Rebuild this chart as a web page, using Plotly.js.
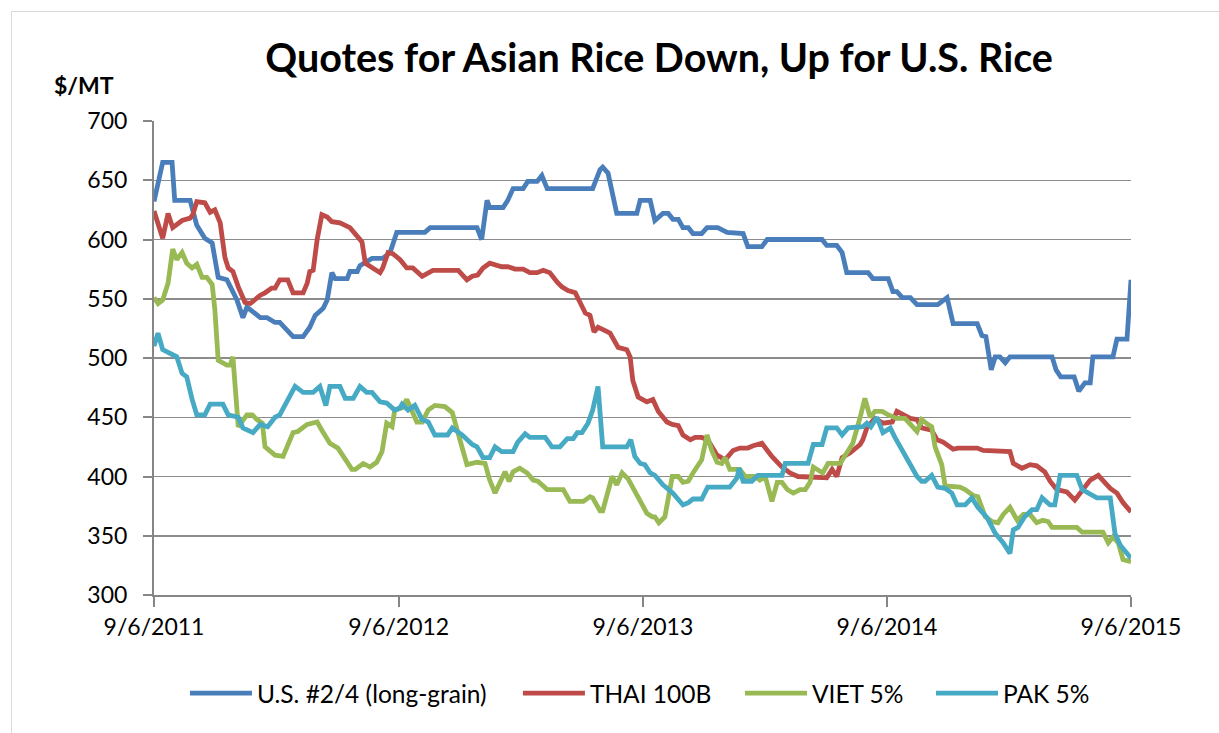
<!DOCTYPE html>
<html>
<head>
<meta charset="utf-8">
<script src="https://cdn.plot.ly/plotly-3.0.1.min.js"></script>
<style>
  html, body { margin: 0; padding: 0; background: #fff; }
  #wrap { position: relative; width: 1219px; height: 733px; overflow: hidden; }
  #chart { position: absolute; left: 0; top: 0; width: 1219px; height: 733px; }
  #frame { position: absolute; left: 11px; top: 11px; width: 1230px; height: 740px; border: 1px solid #d9d9d9; box-sizing: border-box; pointer-events: none; }
</style>
</head>
<body>
<div id="wrap"><div id="chart"></div><div id="frame"></div></div>
<script>
// ---- Data ----
const seriesNames = ["U.S. #2/4 (long-grain)", "THAI 100B", "VIET 5%", "PAK 5%"];
const seriesColors = ["#4A7EBB", "#BE4B48", "#98B954", "#46AAC5"];
const xTickVals = ["2011-09-06", "2012-09-06", "2013-09-06", "2014-09-06", "2015-09-06"];
const xTickText = ["9/6/2011", "9/6/2012", "9/6/2013", "9/6/2014", "9/6/2015"];

const usDates = ["2011-09-06","2011-09-19","2011-10-03","2011-10-07","2011-10-30","2011-11-09","2011-11-21","2011-12-02","2011-12-11","2011-12-24","2012-01-08","2012-01-17","2012-01-23","2012-02-12","2012-02-22","2012-03-05","2012-03-12","2012-03-23","2012-04-01","2012-04-16","2012-04-26","2012-05-04","2012-05-16","2012-05-22","2012-05-29","2012-06-03","2012-06-21","2012-06-25","2012-07-06","2012-07-10","2012-07-28","2012-08-13","2012-08-24","2012-09-03","2012-10-15","2012-10-23","2013-01-01","2013-01-08","2013-01-16","2013-01-20","2013-02-09","2013-02-16","2013-02-24","2013-03-11","2013-03-18","2013-04-01","2013-04-08","2013-04-16","2013-06-23","2013-07-04","2013-07-08","2013-07-16","2013-07-29","2013-08-28","2013-09-02","2013-09-17","2013-09-24","2013-10-06","2013-10-14","2013-10-21","2013-10-29","2013-11-05","2013-11-13","2013-11-20","2013-12-03","2013-12-11","2013-12-27","2014-01-10","2014-02-03","2014-02-10","2014-03-03","2014-03-11","2014-06-01","2014-06-08","2014-06-23","2014-07-01","2014-07-08","2014-08-09","2014-08-16","2014-09-08","2014-09-15","2014-09-21","2014-09-29","2014-10-11","2014-10-21","2014-11-21","2014-12-05","2014-12-14","2015-01-19","2015-01-26","2015-02-01","2015-02-09","2015-02-15","2015-02-22","2015-03-02","2015-03-09","2015-05-11","2015-05-17","2015-05-24","2015-06-13","2015-06-20","2015-06-29","2015-07-07","2015-07-11","2015-08-10","2015-08-16","2015-08-31","2015-09-06"];
const usValues = [632,665,665,633,633,612,601,597,568,566,549,534,543,534,534,530,530,523,518,518,526,536,542,549,572,567,567,573,573,578,584,584,589,606,606,610,610,600,633,627,627,633,643,643,649,649,654,643,643,659,661,656,622,622,633,633,616,622,622,617,617,610,610,605,605,610,610,606,605,594,594,600,600,595,595,589,572,572,567,567,556,556,551,551,545,545,551,529,529,519,518,490,501,501,496,501,501,490,484,484,472,479,479,501,501,516,516,566];

const thaiDates = ["2011-09-06","2011-09-19","2011-09-27","2011-10-04","2011-10-18","2011-10-30","2011-11-03","2011-11-09","2011-11-21","2011-11-29","2011-12-06","2011-12-14","2011-12-21","2011-12-26","2012-01-02","2012-01-10","2012-01-20","2012-01-28","2012-02-12","2012-02-19","2012-02-29","2012-03-05","2012-03-12","2012-03-24","2012-04-01","2012-04-16","2012-04-22","2012-04-26","2012-05-01","2012-05-07","2012-05-14","2012-05-22","2012-05-29","2012-06-10","2012-06-25","2012-07-07","2012-07-13","2012-07-18","2012-07-28","2012-08-09","2012-08-13","2012-08-21","2012-08-28","2012-09-08","2012-09-18","2012-09-27","2012-10-11","2012-10-27","2012-12-04","2012-12-17","2012-12-25","2013-01-02","2013-01-10","2013-01-20","2013-02-07","2013-02-16","2013-02-27","2013-03-11","2013-03-21","2013-04-01","2013-04-10","2013-04-20","2013-05-01","2013-05-08","2013-05-17","2013-05-28","2013-06-04","2013-06-12","2013-06-19","2013-06-25","2013-07-01","2013-07-19","2013-07-31","2013-08-13","2013-08-18","2013-08-22","2013-08-30","2013-09-12","2013-09-21","2013-09-29","2013-10-12","2013-10-20","2013-10-29","2013-11-05","2013-11-16","2013-11-23","2013-12-03","2013-12-12","2013-12-26","2014-01-07","2014-01-19","2014-01-29","2014-02-10","2014-02-18","2014-03-03","2014-03-18","2014-04-02","2014-04-14","2014-04-26","2014-05-21","2014-06-08","2014-06-16","2014-06-23","2014-07-01","2014-07-13","2014-07-28","2014-08-01","2014-08-07","2014-08-19","2014-08-31","2014-09-14","2014-09-21","2014-09-30","2014-10-11","2014-10-21","2014-10-28","2014-11-12","2014-11-20","2014-11-29","2014-12-05","2014-12-14","2014-12-21","2015-01-19","2015-01-28","2015-02-18","2015-03-09","2015-03-14","2015-03-27","2015-04-08","2015-04-18","2015-04-30","2015-05-08","2015-05-18","2015-06-02","2015-06-14","2015-06-22","2015-07-07","2015-07-19","2015-07-26","2015-08-06","2015-08-16","2015-08-25","2015-09-06"];
const thaiValues = [624,601,622,610,616,618,621,632,631,623,625,614,585,576,573,560,547,546,553,555,559,559,566,566,555,555,563,573,574,600,621,619,615,614,610,602,598,580,576,572,576,589,588,583,576,576,569,574,574,566,569,570,576,580,577,577,575,575,572,572,574,572,564,560,557,555,547,538,536,522,526,521,509,507,501,481,467,463,465,455,446,444,443,435,431,433,433,431,418,414,422,424,424,426,428,417,408,403,400,400,399,406,400,416,420,427,431,441,449,445,446,455,452,449,448,441,439,431,429,427,423,424,424,422,421,421,411,407,410,409,404,396,389,387,380,386,397,401,397,390,386,378,370];

const vietDates = ["2011-09-06","2011-09-12","2011-09-19","2011-09-27","2011-10-04","2011-10-10","2011-10-18","2011-10-25","2011-11-02","2011-11-09","2011-11-17","2011-11-24","2011-12-02","2011-12-06","2011-12-11","2011-12-24","2011-12-29","2012-01-02","2012-01-10","2012-01-23","2012-01-31","2012-02-07","2012-02-15","2012-02-19","2012-03-05","2012-03-17","2012-04-01","2012-04-08","2012-04-22","2012-05-07","2012-05-14","2012-05-26","2012-06-07","2012-06-21","2012-06-28","2012-07-03","2012-07-15","2012-07-25","2012-08-04","2012-08-12","2012-08-19","2012-08-27","2012-08-31","2012-09-11","2012-09-18","2012-09-26","2012-10-03","2012-10-11","2012-10-20","2012-10-30","2012-11-14","2012-11-25","2012-12-07","2012-12-17","2013-01-01","2013-01-13","2013-01-20","2013-01-28","2013-02-12","2013-02-18","2013-02-24","2013-03-06","2013-03-17","2013-03-26","2013-04-02","2013-04-16","2013-05-10","2013-05-20","2013-06-09","2013-06-19","2013-06-23","2013-07-04","2013-07-08","2013-07-22","2013-07-29","2013-08-06","2013-08-15","2013-08-25","2013-09-02","2013-09-12","2013-09-20","2013-09-24","2013-09-30","2013-10-09","2013-10-20","2013-10-29","2013-11-05","2013-11-13","2013-11-20","2013-11-28","2013-12-03","2013-12-11","2013-12-18","2013-12-26","2014-01-02","2014-01-07","2014-01-14","2014-01-29","2014-02-06","2014-02-21","2014-02-28","2014-03-08","2014-03-18","2014-03-26","2014-04-02","2014-04-10","2014-04-19","2014-04-29","2014-05-07","2014-05-14","2014-05-19","2014-06-02","2014-06-10","2014-06-28","2014-07-08","2014-07-17","2014-07-28","2014-08-04","2014-08-12","2014-08-19","2014-08-30","2014-09-08","2014-09-21","2014-10-03","2014-10-21","2014-10-28","2014-11-06","2014-11-12","2014-11-17","2014-11-27","2014-12-02","2014-12-24","2015-01-01","2015-01-13","2015-01-20","2015-01-31","2015-02-10","2015-02-19","2015-02-27","2015-03-09","2015-03-20","2015-03-29","2015-04-08","2015-04-18","2015-04-27","2015-05-05","2015-05-11","2015-06-17","2015-06-25","2015-07-26","2015-08-03","2015-08-10","2015-08-18","2015-08-25","2015-09-06"];
const vietValues = [551,546,549,563,592,583,589,580,576,579,568,568,562,541,498,494,494,501,442,452,452,448,445,425,418,417,437,438,444,446,439,428,424,412,406,406,411,408,412,421,445,442,456,458,465,455,446,446,456,460,459,454,431,410,412,411,397,386,404,396,404,407,403,397,396,389,389,379,379,383,382,371,371,400,393,403,398,387,379,369,366,366,361,366,400,400,395,396,403,411,414,435,422,412,411,416,406,406,400,400,397,400,379,395,395,389,386,389,389,395,408,403,411,411,420,428,450,466,450,455,455,452,449,449,438,448,444,442,425,410,392,391,389,384,383,366,362,361,368,374,363,368,368,361,363,362,357,357,353,353,344,349,344,330,328];

const pakDates = ["2011-09-06","2011-09-12","2011-09-19","2011-09-27","2011-10-10","2011-10-18","2011-10-25","2011-11-02","2011-11-09","2011-11-21","2011-11-29","2011-12-18","2011-12-26","2012-01-10","2012-01-17","2012-02-01","2012-02-12","2012-02-23","2012-03-05","2012-03-12","2012-03-23","2012-04-04","2012-04-16","2012-05-01","2012-05-11","2012-05-20","2012-05-26","2012-06-10","2012-06-18","2012-06-30","2012-07-10","2012-07-20","2012-07-28","2012-08-09","2012-08-19","2012-08-31","2012-09-08","2012-09-11","2012-09-20","2012-09-30","2012-10-11","2012-10-20","2012-10-30","2012-11-18","2012-11-25","2012-12-10","2012-12-25","2013-01-01","2013-01-10","2013-01-20","2013-01-28","2013-02-07","2013-02-24","2013-03-03","2013-03-14","2013-03-21","2013-04-13","2013-04-23","2013-05-05","2013-05-16","2013-05-25","2013-05-31","2013-06-07","2013-06-16","2013-06-23","2013-07-01","2013-07-08","2013-08-13","2013-08-19","2013-08-25","2013-09-02","2013-09-09","2013-09-17","2013-09-24","2013-10-06","2013-10-21","2013-11-05","2013-11-13","2013-11-20","2013-12-03","2013-12-12","2014-01-14","2014-01-25","2014-01-28","2014-02-03","2014-02-16","2014-02-25","2014-04-02","2014-04-07","2014-05-11","2014-05-19","2014-06-01","2014-06-08","2014-06-23","2014-07-01","2014-07-10","2014-08-01","2014-08-07","2014-08-13","2014-08-22","2014-08-31","2014-09-11","2014-09-18","2014-09-29","2014-10-06","2014-10-14","2014-10-21","2014-10-28","2014-11-02","2014-11-12","2014-11-21","2014-12-02","2014-12-12","2014-12-20","2015-01-01","2015-01-11","2015-01-20","2015-02-03","2015-02-15","2015-02-27","2015-03-09","2015-03-14","2015-03-21","2015-03-31","2015-04-11","2015-04-18","2015-04-26","2015-05-08","2015-05-15","2015-05-23","2015-06-17","2015-06-25","2015-07-04","2015-07-17","2015-08-06","2015-08-13","2015-08-21","2015-08-31","2015-09-06"];
const pakValues = [510,521,507,505,501,487,484,465,452,452,461,461,452,450,441,437,444,442,450,452,463,476,471,471,476,460,476,476,466,466,476,471,471,463,462,456,458,461,456,460,448,446,435,435,441,435,427,425,416,416,425,421,421,429,436,433,433,425,425,432,432,437,437,445,456,476,425,425,431,417,411,410,403,401,393,386,376,378,381,381,391,391,399,407,396,396,401,401,411,411,427,427,441,441,435,441,442,445,442,450,437,441,433,422,414,408,400,396,396,401,391,390,386,376,376,382,374,365,352,344,335,355,357,366,372,372,382,376,376,401,401,389,386,382,382,352,342,335,331];

// ---- Chart ----
const FONT = "Lato, 'Liberation Sans', sans-serif";
const xs = [usDates, thaiDates, vietDates, pakDates];
const ys = [usValues, thaiValues, vietValues, pakValues];
const legendIds = ["legend", "legend2", "legend3", "legend4"];
const legendX = [0.0317, 0.3725, 0.5998, 0.7953];

const traces = seriesNames.map((name, i) => ({
  type: "scatter",
  mode: "lines",
  name: name,
  x: xs[i],
  y: ys[i],
  legend: legendIds[i],
  line: { color: seriesColors[i], width: 4.8 },
  hoverinfo: "x+y+name"
}));

const layout = {
  width: 1219,
  height: 733,
  paper_bgcolor: "#ffffff",
  plot_bgcolor: "#ffffff",
  margin: { l: 154, r: 88, t: 121, b: 138 },
  font: { family: FONT, color: "#000000", size: 22 },
  title: {
    text: "<b>Quotes for Asian Rice Down, Up for U.S. Rice</b>",
    font: { family: FONT, size: 39.5, color: "#000000" },
    xref: "paper", x: 0.517, xanchor: "center",
    yref: "container", y: 0.921, yanchor: "middle"
  },
  xaxis: {
    type: "date",
    range: ["2011-09-06", "2015-09-06"],
    tickmode: "array",
    tickvals: xTickVals,
    ticktext: xTickText,
    showgrid: false,
    zeroline: false,
    showline: true,
    linecolor: "#868686",
    linewidth: 2,
    ticks: "outside",
    ticklen: 10,
    tickwidth: 2,
    tickcolor: "#868686",
    tickfont: { family: FONT, size: 23, color: "#000000" }
  },
  yaxis: {
    range: [300, 700],
    tickmode: "linear",
    tick0: 300,
    dtick: 50,
    showgrid: true,
    gridcolor: "#8c8c8c",
    gridwidth: 1.5,
    zeroline: false,
    showline: true,
    linecolor: "#868686",
    linewidth: 2,
    ticks: "outside",
    ticklen: 9,
    tickwidth: 2,
    tickcolor: "#868686",
    ticklabelstandoff: 11,
    tickfont: { family: FONT, size: 23, color: "#000000" }
  },
  annotations: [{
    text: "<b>$/MT</b>",
    xref: "paper", yref: "paper",
    x: -0.1044, xanchor: "left",
    y: 1.076, yanchor: "middle",
    showarrow: false,
    font: { family: FONT, size: 23, color: "#000000" }
  }],
  showlegend: true
};

legendIds.forEach((id, i) => {
  layout[id] = {
    orientation: "h",
    x: legendX[i], xanchor: "left",
    y: -0.207, yanchor: "middle",
    font: { family: FONT, size: 24.5, color: "#000000" },
    itemwidth: 62,
    bgcolor: "rgba(0,0,0,0)"
  };
});

Plotly.newPlot("chart", traces, layout, { displayModeBar: false, staticPlot: true });
</script>
</body>
</html>
